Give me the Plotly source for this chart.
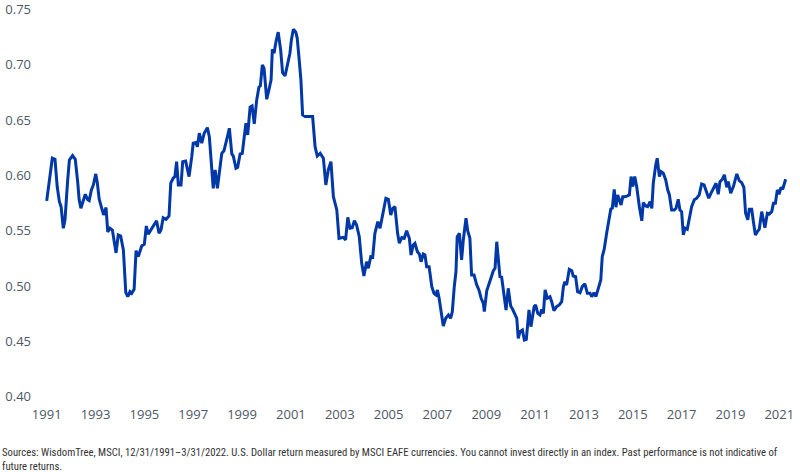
import plotly.graph_objects as go

# Positions along the time axis (decimal years, axis labelled 1991..2021) and the ratio
t_years = [
    1991.00, 1991.23, 1991.34, 1991.43, 1991.52, 1991.59, 1991.68, 1991.75, 1991.86, 1991.93,
    1992.06, 1992.17, 1992.27, 1992.33, 1992.40, 1992.50, 1992.58, 1992.68, 1992.74, 1992.83,
    1992.91, 1993.01, 1993.07, 1993.15, 1993.22, 1993.33, 1993.43, 1993.50, 1993.59, 1993.69,
    1993.84, 1993.93, 1994.03, 1994.14, 1994.24, 1994.32, 1994.41, 1994.48, 1994.58, 1994.66,
    1994.75, 1994.89, 1995.00, 1995.08, 1995.16, 1995.30, 1995.50, 1995.60, 1995.68, 1995.77,
    1995.89, 1996.01, 1996.08, 1996.18, 1996.25, 1996.32, 1996.39, 1996.50, 1996.57, 1996.69,
    1996.83, 1996.94, 1997.00, 1997.10, 1997.17, 1997.25, 1997.35, 1997.45, 1997.58, 1997.66,
    1997.73, 1997.82, 1997.90, 1997.99, 1998.17, 1998.26, 1998.37, 1998.48, 1998.58, 1998.64,
    1998.75, 1998.82, 1998.92, 1999.01, 1999.09, 1999.16, 1999.23, 1999.33, 1999.41, 1999.50,
    1999.60, 1999.69, 1999.75, 1999.83, 1999.90, 2000.01, 2000.10, 2000.19, 2000.24, 2000.31,
    2000.39, 2000.48, 2000.58, 2000.66, 2000.76, 2000.85, 2000.96, 2001.02, 2001.10, 2001.20,
    2001.26, 2001.34, 2001.41, 2001.48, 2001.58, 2001.71, 2001.89, 2001.99, 2002.08, 2002.20,
    2002.33, 2002.43, 2002.53, 2002.64, 2002.74, 2002.88, 2002.97, 2003.15, 2003.24, 2003.33,
    2003.42, 2003.51, 2003.60, 2003.69, 2003.80, 2003.90, 2003.99, 2004.10, 2004.17, 2004.27,
    2004.35, 2004.44, 2004.56, 2004.65, 2004.72, 2004.81, 2004.89, 2004.99, 2005.09, 2005.17,
    2005.26, 2005.37, 2005.44, 2005.54, 2005.64, 2005.74, 2005.85, 2005.92, 2006.01, 2006.08,
    2006.18, 2006.26, 2006.33, 2006.42, 2006.49, 2006.56, 2006.66, 2006.77, 2006.86, 2006.94,
    2007.00, 2007.07, 2007.15, 2007.24, 2007.34, 2007.45, 2007.54, 2007.61, 2007.69, 2007.76,
    2007.81, 2007.90, 2007.99, 2008.06, 2008.17, 2008.24, 2008.33, 2008.40, 2008.50, 2008.61,
    2008.70, 2008.79, 2008.88, 2008.92, 2009.02, 2009.11, 2009.19, 2009.29, 2009.36, 2009.43,
    2009.49, 2009.56, 2009.63, 2009.73, 2009.81, 2009.90, 2010.00, 2010.08, 2010.18, 2010.25,
    2010.31, 2010.38, 2010.48, 2010.56, 2010.64, 2010.75, 2010.83, 2010.96, 2011.02, 2011.11,
    2011.20, 2011.27, 2011.34, 2011.41, 2011.50, 2011.61, 2011.68, 2011.77, 2011.88, 2011.99,
    2012.09, 2012.16, 2012.22, 2012.29, 2012.40, 2012.50, 2012.56, 2012.66, 2012.74, 2012.84,
    2012.93, 2013.04, 2013.14, 2013.25, 2013.32, 2013.41, 2013.49, 2013.59, 2013.69, 2013.75,
    2013.83, 2013.93, 2014.03, 2014.10, 2014.16, 2014.24, 2014.31, 2014.38, 2014.45, 2014.52,
    2014.59, 2014.68, 2014.78, 2014.86, 2014.93, 2015.00, 2015.08, 2015.16, 2015.27, 2015.37,
    2015.43, 2015.53, 2015.61, 2015.71, 2015.78, 2015.84, 2015.94, 2016.00, 2016.09, 2016.16,
    2016.25, 2016.35, 2016.43, 2016.50, 2016.59, 2016.70, 2016.77, 2016.86, 2016.93, 2017.00,
    2017.07, 2017.14, 2017.23, 2017.31, 2017.41, 2017.52, 2017.62, 2017.72, 2017.82, 2017.92,
    2018.03, 2018.11, 2018.20, 2018.30, 2018.41, 2018.50, 2018.57, 2018.67, 2018.75, 2018.85,
    2018.91, 2019.01, 2019.12, 2019.26, 2019.36, 2019.46, 2019.55, 2019.62, 2019.71, 2019.77,
    2019.87, 2019.94, 2020.02, 2020.12, 2020.18, 2020.28, 2020.35, 2020.41, 2020.51, 2020.59,
    2020.69, 2020.76, 2020.84, 2020.92, 2020.99, 2021.07, 2021.14, 2021.19, 2021.26,
]

ratio = [
    0.577, 0.6156, 0.6146, 0.590, 0.5763, 0.5718, 0.5523, 0.560, 0.596, 0.614,
    0.618, 0.6146, 0.594, 0.578, 0.5703, 0.5763, 0.583, 0.578, 0.5772, 0.587,
    0.5914, 0.6014, 0.594, 0.5785, 0.5733, 0.5643, 0.571, 0.549, 0.5523, 0.5507,
    0.530, 0.5462, 0.5453, 0.5327, 0.494, 0.4904, 0.495, 0.4935, 0.4971, 0.532,
    0.5266, 0.5363, 0.538, 0.5543, 0.547, 0.5523, 0.559, 0.5477, 0.5507, 0.5618,
    0.5604, 0.5634, 0.593, 0.5975, 0.599, 0.6125, 0.5914, 0.5914, 0.6125, 0.613,
    0.599, 0.617, 0.6291, 0.6297, 0.626, 0.6382, 0.6291, 0.6382, 0.6432, 0.635,
    0.617, 0.5884, 0.605, 0.5884, 0.620, 0.6224, 0.6321, 0.6427, 0.6194, 0.6176,
    0.6065, 0.6074, 0.6194, 0.620, 0.635, 0.6472, 0.6366, 0.6617, 0.6628, 0.6466,
    0.6683, 0.6798, 0.681, 0.6999, 0.6969, 0.6689, 0.6773, 0.6864, 0.7141, 0.7105,
    0.721, 0.7295, 0.7135, 0.693, 0.690, 0.6984, 0.7105, 0.7225, 0.7322, 0.7295,
    0.724, 0.7044, 0.6864, 0.6547, 0.6532, 0.6532, 0.6532, 0.626, 0.6176, 0.620,
    0.6156, 0.5914, 0.605, 0.6125, 0.5808, 0.5688, 0.5432, 0.5441, 0.5417, 0.5622,
    0.5523, 0.5528, 0.559, 0.5553, 0.5447, 0.5206, 0.5091, 0.522, 0.5161, 0.5266,
    0.526, 0.5477, 0.5582, 0.5523, 0.560, 0.5673, 0.5794, 0.5785, 0.5643, 0.5703,
    0.5718, 0.5477, 0.5387, 0.5438, 0.5432, 0.5501, 0.5432, 0.5281, 0.5372, 0.5387,
    0.5311, 0.529, 0.522, 0.529, 0.5281, 0.5175, 0.5175, 0.4995, 0.4935, 0.492,
    0.4965, 0.489, 0.4784, 0.4639, 0.4709, 0.4739, 0.4709, 0.4769, 0.4995, 0.513,
    0.5447, 0.5477, 0.5236, 0.5417, 0.5613, 0.5501, 0.5432, 0.510, 0.510, 0.501,
    0.4965, 0.489, 0.4844, 0.4769, 0.4958, 0.501, 0.507, 0.5139, 0.5161, 0.5401,
    0.5281, 0.5085, 0.508, 0.4935, 0.4784, 0.498, 0.482, 0.479, 0.4739, 0.4709,
    0.4528, 0.4588, 0.4603, 0.4513, 0.4519, 0.4784, 0.4633, 0.4814, 0.4829, 0.4754,
    0.4739, 0.479, 0.4754, 0.4965, 0.489, 0.4904, 0.4859, 0.4778, 0.4814, 0.4829,
    0.4859, 0.4995, 0.504, 0.501, 0.5152, 0.5139, 0.5091, 0.5085, 0.495, 0.494,
    0.4995, 0.502, 0.4935, 0.4935, 0.4904, 0.494, 0.4904, 0.498, 0.5055, 0.5266,
    0.5333, 0.5477, 0.560, 0.5697, 0.5703, 0.5875, 0.5713, 0.5824, 0.578, 0.5733,
    0.5808, 0.5808, 0.5815, 0.5824, 0.599, 0.590, 0.599, 0.590, 0.5718, 0.559,
    0.5754, 0.5724, 0.5718, 0.5763, 0.5703, 0.593, 0.6095, 0.6156, 0.599, 0.6034,
    0.602, 0.596, 0.587, 0.5824, 0.5688, 0.5688, 0.5703, 0.5785, 0.5688, 0.5673,
    0.5462, 0.5523, 0.5514, 0.5613, 0.5718, 0.578, 0.5794, 0.5824, 0.5923, 0.5914,
    0.5845, 0.5794, 0.5839, 0.5884, 0.593, 0.583, 0.5944, 0.5966, 0.6005, 0.5893,
    0.5944, 0.5839, 0.590, 0.6014, 0.5953, 0.5935, 0.5893, 0.5658, 0.560, 0.5694,
    0.5694, 0.5582, 0.5462, 0.5498, 0.5514, 0.5673, 0.560, 0.5528, 0.5658, 0.5652,
    0.5673, 0.5749, 0.5749, 0.587, 0.583, 0.5893, 0.5875, 0.5905, 0.5966,
]

x_tick_vals = list(range(1991, 2022, 2))
x_tick_text = [str(v) for v in x_tick_vals]
y_tick_vals = [0.40, 0.45, 0.50, 0.55, 0.60, 0.65, 0.70, 0.75]
y_tick_text = ["0.40", "0.45", "0.50", "0.55", "0.60", "0.65", "0.70", "0.75"]

footnote = ("Sources: WisdomTree, MSCI, 12/31/1991\u20133/31/2022. U.S. Dollar return measured by MSCI EAFE "
            "currencies. You cannot invest directly in an index. Past performance is not indicative of"
            "<br>future returns.")

fig = go.Figure()
fig.add_trace(go.Scatter(
    x=t_years, y=ratio, mode="lines",
    line=dict(color="#0038A8", width=3),
    hoverinfo="skip", showlegend=False,
))

fig.update_layout(
    width=800, height=472,
    margin=dict(l=38, r=5, t=5, b=67),
    paper_bgcolor="white", plot_bgcolor="white",
    font=dict(family="Open Sans, Noto Sans, sans-serif", size=13, color="#4d5766"),
    xaxis=dict(
        range=[1990.644, 2021.643], tickvals=x_tick_vals, ticktext=x_tick_text,
        showgrid=False, zeroline=False, showline=False, ticks="", automargin=False,
        tickfont=dict(size=13, color="#4d5766"),
    ),
    yaxis=dict(
        range=[0.3925, 0.7541], tickvals=y_tick_vals, ticktext=y_tick_text,
        showgrid=False, zeroline=False, showline=False, ticks="", automargin=False,
        tickfont=dict(size=13, color="#4d5766"), ticklabelstandoff=6,
    ),
    annotations=[dict(
        text=footnote, xref="paper", yref="paper", x=-38/757, y=-0.098,
        xanchor="left", yanchor="top", showarrow=False, align="left",
        font=dict(family="Liberation Sans Narrow, Roboto Condensed, Roboto, sans-serif", size=10.7, color="#333333"),
    )],
)

fig.write_html("out.html")
